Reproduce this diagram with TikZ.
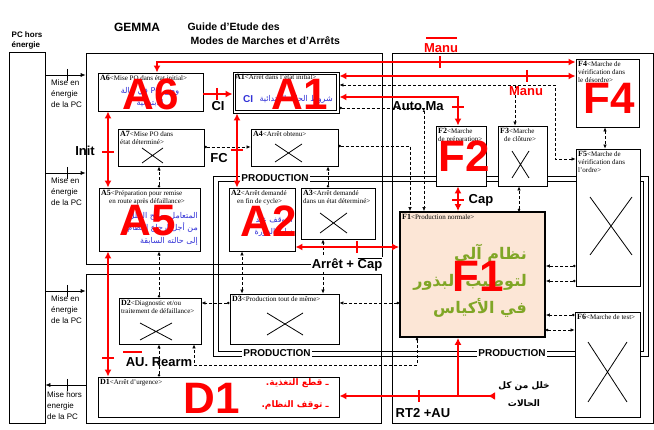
\documentclass[tikz,border=0pt]{standalone}
\usepackage{fontspec}
\setmainfont{Liberation Serif}
\setsansfont{Liberation Sans}
\newfontfamily\arabe[Script=Arabic]{DejaVu Sans}
\TeXXeTstate=1
\usetikzlibrary{arrows.meta}
\definecolor{peche}{RGB}{252,230,214}
\definecolor{vertol}{RGB}{128,166,38}
\definecolor{bleuar}{RGB}{50,50,215}

% zone frame: name x1 y1 x2 y2
\newcommand{\zone}[5]{%
  \node[cadre, minimum width={#4-#2}, minimum height={#5-#3}] (#1) at ({(#2+#4)/2},{(#3+#5)/2}) {};}
% step box: [style] name x1 y1 x2 y2 title
\newcommand{\boite}[7][]{%
  \node[etape, #1, minimum width={#5-#3}, minimum height={#6-#4}] (#2) at ({(#3+#5)/2},{(#4+#6)/2}) {};
  \node[titre] (#2t) at ({#3+2},{#4+2}) {{\bfseries\fontsize{8}{8}\selectfont #2}<#7>};}

\begin{document}
\begin{tikzpicture}[x=1pt,y=-1pt,
  cadre/.style={draw, line width=0.7pt, inner sep=0pt},
  etape/.style={draw, fill=white, line width=0.9pt, inner sep=0pt},
  titre/.style={anchor=north west, inner sep=0pt, align=left, font=\fontsize{7}{7.8}\selectfont},
  croix/.style={line width=0.8pt},
  rouge/.style={draw=red, line width=1.5pt, >={Latex[length=7pt,width=7pt]}},
  trait/.style={red, line width=1.5pt},
  tiret/.style={densely dashed, line width=0.6pt, >={Latex[length=4pt,width=3.5pt]}},
  fleche/.style={line width=0.7pt, >={Latex[length=5pt,width=4pt]}},
  lab/.style={font=\sffamily\bfseries\fontsize{13}{13}\selectfont, inner sep=1pt},
  petit/.style={font=\sffamily\fontsize{8}{11}\selectfont, align=left, anchor=north west, inner sep=0pt},
  prod/.style={font=\sffamily\bfseries\fontsize{10}{10}\selectfont, fill=white, inner sep=1.5pt},
  bleu/.style={text=bleuar, font=\arabe\fontsize{8}{12.5}\selectfont, align=right, inner sep=0pt},
  grand/.style={text=red, font=\sffamily\bfseries\fontsize{44}{44}\selectfont, inner sep=0pt}
]
\useasboundingbox[fill=white] (0,0) rectangle (654,430);

% frames
\zone{PC}{9}{52}{45}{423}
\zone{zoneA}{86}{53}{382}{264}
\zone{zoneD}{86}{274}{381}{423}
\zone{zoneF}{392}{53}{653}{423}

% production zone
\draw[line width=0.6pt] (213,176) rectangle (648,356);
\draw[line width=0.6pt] (218,181) rectangle (643,351);

% power arrows
\draw[fleche,->] (PC.east |- 0,75) -- (zoneA.west |- 0,75);
\draw[fleche,->] (PC.east |- 0,173) -- (zoneA.west |- 0,173);
\draw[fleche,->] (PC.east |- 0,291) -- (zoneD.west |- 0,291);
\draw[fleche,->] (zoneD.west |- 0,385) -- (PC.east |- 0,385);
\foreach \y in {75,173,291,385}
  \draw[line width=0.7pt] (67,\y-6) -- (67,\y+6);

% A steps
\boite{A6}{98}{73}{203}{111}{Mise PO dans état initial}
\boite{A1}{233}{72}{339}{113}{Arrêt dans l'état initial}
\draw[line width=0.7pt] ([shift={(3,3)}]A1.north west) rectangle ([shift={(-3,-3)}]A1.south east);
\boite{A7}{118}{129}{204}{166}{Mise PO dans\\état déterminé}
\boite{A4}{251}{129}{338}{166}{Arrêt obtenu}
\boite{A5}{99}{188}{200}{251}{Préparation pour remise\\\hspace*{8pt}en route après défaillance}
\boite{A2}{229}{188}{295}{251}{Arrêt demandé\\\hspace*{6pt}en fin de cycle}
\boite{A3}{301}{188}{375}{239}{Arrêt demandé\\dans un état déterminé}
% D steps
\boite{D2}{119}{298}{201}{344}{Diagnostic et/ou\\traitement de défaillance}
\boite{D3}{230}{294}{339}{344}{Production tout de même}
\boite{D1}{98}{377}{339}{417}{Arrêt d'urgence}
% F steps
\boite{F2}{436}{126}{486}{186}{Marche\\de préparation}
\boite{F3}{498}{126}{547}{186}{Marche\\\hspace*{4pt}de clôture}
\boite{F4}{576}{59}{639}{127}{Marche de\\vérification dans\\le désordre}
\boite{F5}{576}{149}{640}{286}{Marche de\\vérification dans\\l'ordre}
\boite{F6}{575}{312}{640}{417}{Marche de test}
\boite[fill=peche, line width=1.8pt]{F1}{400}{212}{545}{337}{Production normale}

% crosses
\draw[croix] (142,148) -- (163,163) (142,163) -- (163,148);
\draw[croix] (275,144) -- (302,162) (275,162) -- (302,144);
\draw[croix] (320,213) -- (347,233) (320,233) -- (347,213);
\draw[croix] (140,323) -- (172,340) (140,340) -- (172,323);
\draw[croix] (267,313) -- (303,335) (267,335) -- (303,313);
\draw[croix] (512,151) -- (529,178) (512,178) -- (529,151);
\draw[croix] (590,197) -- (632,255) (590,255) -- (632,197);
\draw[croix] (588,342) -- (627,402) (588,402) -- (627,342);

% production labels
\node[prod] (prod1) at (275,178) {PRODUCTION};
\node[prod] (prod2) at (277,353) {PRODUCTION};
\node[prod] (prod3) at (512,353) {PRODUCTION};

% dashed links
\draw[tiret,<->] (A1.east |- 0,85) -- (555,85) -- (555,159) -- (F5.west |- 0,159);
\coordinate (j1) at (515,85);
\draw[tiret,->] (j1) -- (F3.north -| 515,0);
\draw[tiret,{Circle[length=2.5pt]}->] (F1.north -| 519,0) -- (F3.south -| 519,0);
\draw[tiret,<->] (F4.south -| 605,0) -- (F5.north -| 605,0);
\draw[tiret,{Circle[length=2.5pt]}->] (A1.east |- 0,108) -- (424,108) -- (F1.north -| 424,0);
\draw[tiret,{Circle[length=2.5pt]}->] (A4.east |- 0,146) -- (410,146) -- (F1.north -| 410,0);
\draw[tiret,{Circle[length=2.5pt]}->] (A7.east |- 0,147) -- (A4.west |- 0,147);
\draw[tiret,{Circle[length=2.5pt]}->] (A5.north -| 159,0) -- (A7.south -| 159,0);
\draw[tiret,{Circle[length=2.5pt]}->] (A3.north -| 328,0) -- (A4.south -| 328,0);
\draw[tiret,<->] (D3.north -| 242,0) -- (A2.south -| 242,0);
\draw[tiret,<->] (D3.north -| 323,0) -- (A3.south -| 323,0);
\draw[tiret,{Circle[length=2.5pt]}->] (D2.north -| 159,0) -- (A5.south -| 159,0);
\draw[tiret,{Circle[length=2.5pt]}->] (D1.north -| 159,0) -- (D2.south -| 159,0);
\draw[tiret,{Circle[length=2.5pt]}->] (F1.south -| 417,0) -- (417,365) -- (194,365) -- (D2.south -| 194,0);
\draw[tiret,{Circle[length=2.5pt]}->] (F1.west |- 0,303) -- (D3.east |- 0,303);
\draw[tiret,{Circle[length=2.5pt]}->] (D3.west |- 0,303) -- (D2.east |- 0,303);
\draw[tiret,{Circle[length=2.5pt]}->] (F5.west |- 0,266) -- (F1.east |- 0,266);
\draw[tiret,{Circle[length=2.5pt]}->] (F5.west |- 0,281) -- (F1.east |- 0,281);
\draw[tiret,{Circle[length=2.5pt]}->] (F6.west |- 0,315) -- (F1.east |- 0,315);
\draw[tiret,{Circle[length=2.5pt]}->] (F1.east |- 0,330) -- (F6.west |- 0,330);

% red links
\draw[rouge,<->] (A6.north -| 157,0) -- (157,62) -- (F4.west |- 0,62);
\draw[rouge,<->] (A1.east |- 0,76) -- (F4.west |- 0,76);
\draw[rouge,<->] (A1.east |- 0,97) -- (458,97) -- (F2.north -| 458,0);
\draw[rouge,->] (A6.east |- 0,94) -- (A1.west |- 0,94);
\draw[rouge,<->] (A1.south -| 237,0) -- (A2.north -| 237,0);
\draw[rouge,<->] (A5.north -| 108,0) -- (A6.south -| 108,0);
\draw[rouge,<->] (D1.north -| 108,0) -- (A5.south -| 108,0);
\draw[rouge,<->] (F1.west |- 0,247) -- (A2.east |- 0,247);
\draw[rouge,<->] (F2.south -| 458,0) -- (F1.north -| 458,0);
\draw[rouge,<-] (F1.south -| 458,0) -- (458,396);
\coordinate (tous) at (495,396);
\draw[rouge,{Latex[length=7pt,width=8pt,reversed]}->] (tous) -- (D1.east |- 0,396);
% ticks
\draw[trait] (440,56) -- (440,68);
\draw[trait] (527,70) -- (527,82);
\draw[trait] (452,107) -- (464,107);
\draw[trait] (217,88) -- (217,100);
\draw[trait] (231,150) -- (243,150);
\draw[trait] (102,152) -- (114,152);
\draw[trait] (102,358) -- (114,358);
\draw[trait] (357,241) -- (357,253);
\draw[trait] (452,200) -- (464,200);
\draw[trait] (419,390) -- (419,402);

% labels
\node[font=\sffamily\bfseries\fontsize{8}{10}\selectfont, align=left] (pch) at (27,40) {PC hors\\énergie};
\node[font=\sffamily\bfseries\fontsize{12}{12}\selectfont] (gemma) at (137,27) {GEMMA};
\node[font=\sffamily\bfseries\fontsize{10.5}{14}\selectfont, align=left, anchor=north west] (guide) at (184,19) {Guide d'Etude des\\\hspace*{3pt}Modes de Marches et d'Arrêts};
\node[petit] (me1) at (51,80) {Mise en\\énergie\\de la PC};
\node[petit] (me2) at (51,178) {Mise en\\énergie\\de la PC};
\node[petit] (me3) at (51,296) {Mise en\\énergie\\de la PC};
\node[petit] (me4) at (47,392) {Mise hors\\energie\\de la PC};

\node[lab] (lCI) at (218,106) {CI};
\node[lab] (lFC) at (219,158) {FC};
\node[lab] (lInit) at (85,151) {Init};
\node[lab] (lAuto) at (418,107) {Auto,Ma};
\node[lab, text=red] (lManu1) at (441,48) {Manu};
\draw[trait] (426,38) -- (457,38);
\node[lab, text=red] (lManu2) at (526,91) {Manu};
\node[lab] (lCap) at (481,200) {Cap};
\node[lab, fill=white, inner sep=0.5pt] (lArret) at (347,264) {Arrêt + $\overline{\hbox{Cap}}$};
\node[lab] (lAU) at (159,362) {AU. Rearm};
\draw[trait] (123,352) -- (142,352);
\node[lab] (lRT) at (423,413) {RT2 +AU};

% texts in steps
\node[bleu, align=center] (A6x) at (150,97) {\beginR وضع \beginL PO\endL{} في حالة\endR\\\beginR الابتدائية\endR};
\node[text=bleuar, font=\sffamily\bfseries\fontsize{10}{10}\selectfont, anchor=west, inner sep=0pt] (A1c) at (243,99) {CI};
\node[bleu, anchor=east] (A1x) at (333,99) {\beginR شروط الحالة الابتدائية\endR};
\node[bleu, anchor=north east] (A5x) at (198,212) {\beginR المتعامل يصلح الخلل\endR\\\beginR من أجل إرجاع النظام\endR\\\beginR إلى حالته السابقة\endR};
\node[bleu, anchor=north east] (A2x) at (293,216) {\beginR التوقف عند\endR\\\beginR نهاية الدورة\endR};
\node[text=vertol, font=\arabe\bfseries\fontsize{16}{27}\selectfont, align=right, anchor=north east, inner sep=0pt] (F1x) at (527,244) {\beginR نظام آلي\endR\\\beginR لتوضيب البذور\endR\\\beginR في الأكياس\endR};
\node[text=red, font=\arabe\bfseries\fontsize{9}{22}\selectfont, align=right, anchor=north east, inner sep=0pt] (D1x) at (329,378) {\beginR ـ قطع التغذية.\endR\\\beginR ـ توقف النظام.\endR};
\node[font=\arabe\bfseries\fontsize{9}{18}\selectfont, align=center] (tousx) at (524,394) {\beginR خلل من كل\endR\\\beginR الحالات\endR};

% big step names
\node[grand] (gA6) at (151,94) {A6};
\node[grand] (gA1) at (300,94) {A1};
\node[grand] (gA5) at (148,221) {A5};
\node[grand] (gA2) at (269,221) {A2};
\node[grand] (gF2) at (464,156) {F2};
\node[grand] (gF4) at (609,98) {F4};
\node[grand] (gF1) at (478,276) {F1};
\node[grand] (gD1) at (212,398) {D1};
\end{tikzpicture}
\end{document}
